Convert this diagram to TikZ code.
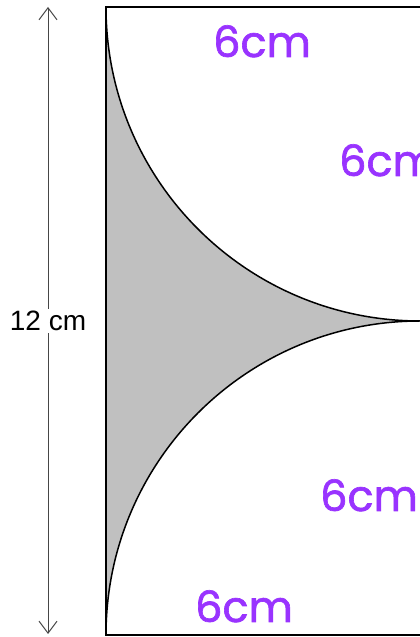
\documentclass[tikz,border=0pt]{standalone}
\usepackage{fontspec}
\setmainfont{Liberation Sans}
\newfontfamily\handfont{Poppins}[FakeBold=1.5]
\usetikzlibrary{arrows.meta}
\definecolor{shade}{RGB}{192,192,192}
\definecolor{hand}{RGB}{153,51,255}
\definecolor{dimgray}{RGB}{70,70,70}
\tikzset{
  hw/.style={text=hand, font=\handfont\fontsize{43}{43}\selectfont, anchor=base west, inner sep=0pt},
  dim/.style={draw=dimgray, line width=1pt, {Straight Barb[length=12pt,width=18pt]}-{Straight Barb[length=12pt,width=18pt]}}
}
\begin{document}
\begin{tikzpicture}[x=1pt,y=1pt]
\useasboundingbox (0,0) rectangle (420,637);
% shaded region
\filldraw[fill=shade, draw=black, line width=1.5pt]
  (106,630) arc[start angle=180, end angle=270, radius=314]
  arc[start angle=90, end angle=180, radius=314] -- cycle;
% rectangle
\draw[line width=2pt] (106,2) rectangle (430,630);
% dimension arrow
\coordinate (dtop) at (48,630);
\coordinate (dbot) at (48,3);
\draw[dim] (dtop) -- (dbot);
\node[fill=white, font=\fontsize{28}{28}\selectfont, inner sep=2pt] (lbl) at (48,316) {12 cm};
% handwritten labels
\node[hw] (l1) at (213,580) {6cm};
\node[hw] (l2) at (339,461) {6cm};
\node[hw] (l3) at (320,126) {6cm};
\node[hw] (l4) at (195,15) {6cm};
\end{tikzpicture}
\end{document}
